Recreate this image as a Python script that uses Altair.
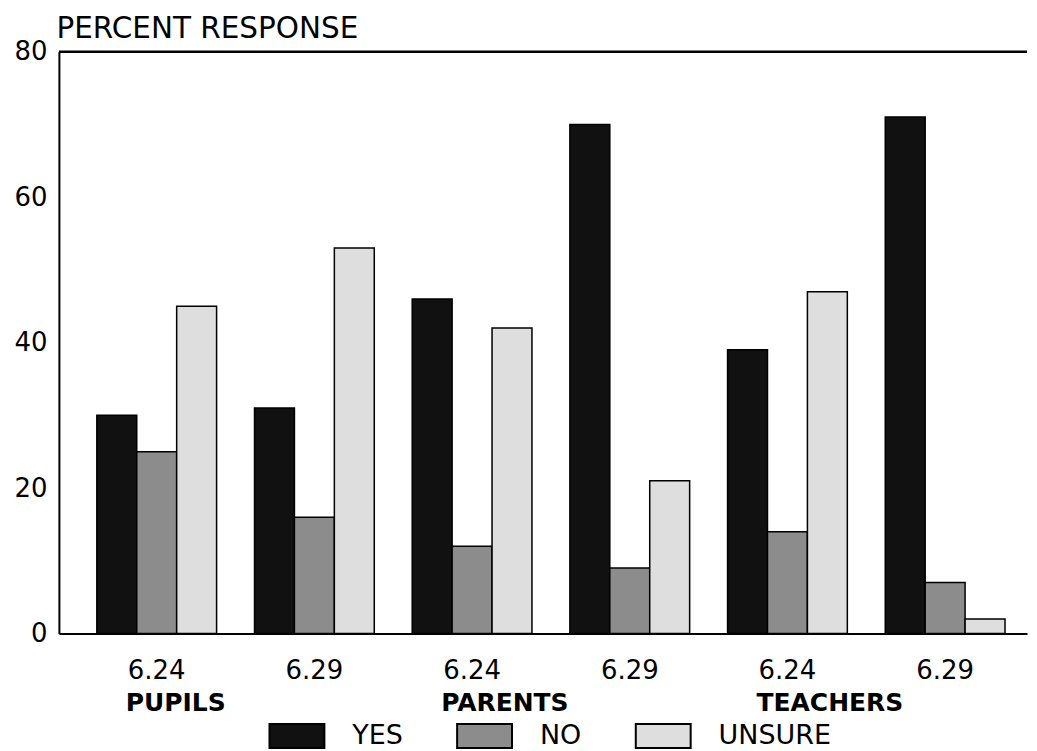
import altair as alt
import pandas as pd

groups = ["PUPILS", "PARENTS", "TEACHERS"]
dates = ["6.24", "6.29"]
responses = ["YES", "NO", "UNSURE"]
yes = [30, 31, 46, 70, 39, 71]
no = [25, 16, 12, 9, 14, 7]
unsure = [45, 53, 42, 21, 47, 2]
y_ticks = [0, 20, 40, 60, 80]

keys = [f"{g} {d}" for g in groups for d in dates]
rows = []
for i, k in enumerate(keys):
    for r, vals in zip(responses, [yes, no, unsure]):
        rows.append({"key": k, "response": r, "value": vals[i]})
df = pd.DataFrame(rows)
lab = pd.DataFrame({"key": [f"{g} {dates[0]}" for g in groups], "name": groups})
top = pd.DataFrame({"v": [y_ticks[-1]]})

FONT = "DejaVu Sans"

x_enc = alt.X(
    "key:N",
    sort=keys,
    scale=alt.Scale(paddingInner=0.2405, paddingOuter=0.19, align=0.633),
    axis=alt.Axis(
        title=None,
        labelExpr="split(datum.label, ' ')[1]",
        labelAngle=0,
        ticks=False,
        labelPadding=24,
        labelFontSize=26,
        domainColor="black",
        domainWidth=2,
    ),
)

bars = alt.Chart(df).mark_bar(stroke="black", strokeWidth=1.5).encode(
    x=x_enc,
    xOffset=alt.XOffset("response:N", sort=responses,
                        scale=alt.Scale(paddingInner=0, paddingOuter=0)),
    y=alt.Y(
        "value:Q",
        scale=alt.Scale(domain=[0, 80], nice=False),
        axis=alt.Axis(
            values=y_ticks,
            title="PERCENT RESPONSE",
            titleAngle=0,
            titleAlign="left",
            titleBaseline="alphabetic",
            titleX=-3,
            titleY=-14,
            titleFontSize=29.5,
            titleFontWeight="normal",
            grid=False,
            ticks=False,
            labelPadding=12,
            labelFontSize=26,
            domainColor="black",
            domainWidth=2,
        ),
    ),
    color=alt.Color(
        "response:N",
        sort=responses,
        scale=alt.Scale(domain=responses, range=["#111111", "#8c8c8c", "#dedede"]),
        legend=alt.Legend(
            title=None,
            orient="none",
            legendX=210,
            legendY=657,
            direction="horizontal",
            symbolType="M-1,-0.436H1V0.436H-1Z",
            symbolSize=3025,
            symbolStrokeColor="black",
            symbolStrokeWidth=2,
            symbolOpacity=1,
            labelFontSize=27,
            labelOffset=27,
            columnPadding=50,
            labelFont=FONT,
            labelColor="black",
            padding=0,
        ),
    ),
)

names = alt.Chart(lab).mark_text(
    align="left", baseline="alphabetic", dx=-31,
    font=FONT, fontWeight="bold", fontSize=25, color="black",
).encode(
    x=alt.X("key:N", sort=keys),
    y=alt.value(661),
    text="name:N",
)

top_rule = alt.Chart(top).mark_rule(color="black", strokeWidth=2.5).encode(
    y=alt.Y("v:Q")
)

chart = alt.layer(bars, top_rule, names).properties(
    width=970,
    height=583,
    padding={"left": 5, "top": 5, "right": 0, "bottom": 0},
    background="white",
).configure_view(stroke=None).configure_axis(
    labelFont=FONT, titleFont=FONT, labelColor="black", titleColor="black"
)

chart.save("out.html", embed_options={"renderer": "svg", "actions": False})
